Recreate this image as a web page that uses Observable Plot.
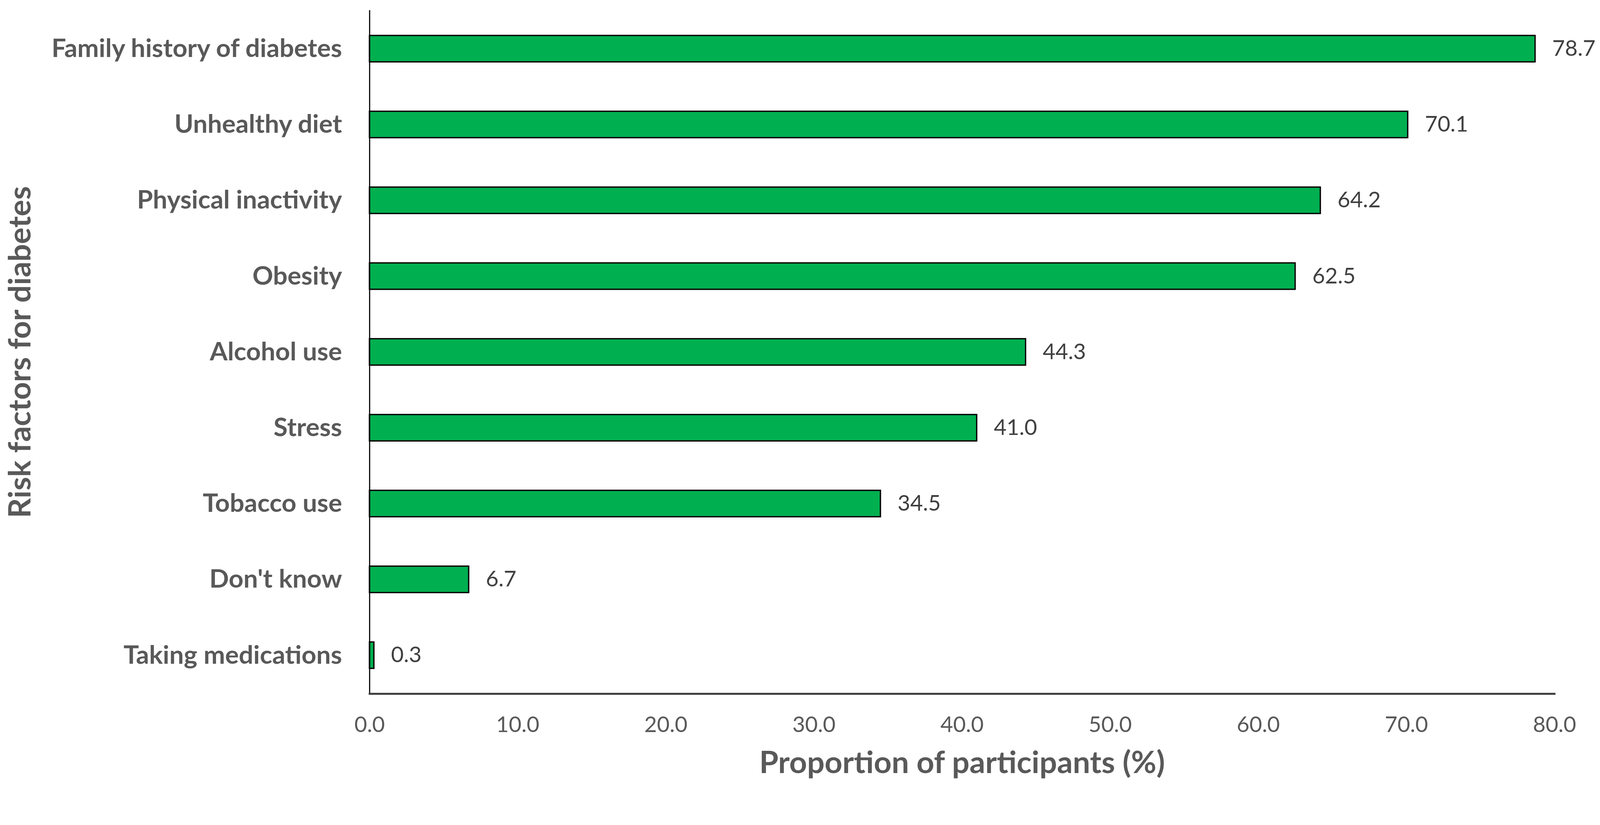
<!DOCTYPE html>
<html>
<head>
<meta charset="utf-8">
<script src="https://cdn.jsdelivr.net/npm/d3@7"></script>
<script src="https://cdn.jsdelivr.net/npm/@observablehq/plot@0.6"></script>
<style>
  html, body { margin: 0; padding: 0; background: #fff; }
  #chart svg { display: block; }
</style>
</head>
<body>
<div id="chart"></div>
<script>
const categories = [
  "Family history of diabetes",
  "Unhealthy diet",
  "Physical inactivity",
  "Obesity",
  "Alcohol use",
  "Stress",
  "Tobacco use",
  "Don't know",
  "Taking medications"
];
const values = [78.7, 70.1, 64.2, 62.5, 44.3, 41.0, 34.5, 6.7, 0.3];
const xTicks = [0, 10, 20, 30, 40, 50, 60, 70, 80];
const xTitle = "Proportion of participants (%)";
const yTitle = "Risk factors for diabetes";

const data = categories.map((c, i) => ({category: c, value: values[i]}));
const fmt = d3.format(".1f");
const font = "Lato, 'Open Sans', sans-serif";

const chart = Plot.plot({
  width: 4240,
  height: 2113,
  marginLeft: 979,
  marginRight: 121,
  marginTop: 27,
  marginBottom: 274,
  style: {fontFamily: font, background: "#fff"},
  x: {domain: [0, 80]},
  y: {domain: categories, paddingInner: 0.65, paddingOuter: 0.325},
  marks: [
    Plot.barX(data, {x: "value", y: "category", fill: "#00B050", stroke: "#000", strokeWidth: 3.5}),
    Plot.ruleX([0], {stroke: "#000", strokeWidth: 3}),
    Plot.frame({anchor: "bottom", stroke: "#3a3a3a", strokeWidth: 5}),
    Plot.text(data, {x: "value", y: "category", text: d => fmt(d.value), dx: 45, textAnchor: "start",
      fill: "#404040", fontSize: 58, fontFamily: font}),
    Plot.axisX({ticks: xTicks, tickFormat: fmt, tickSize: 0, tickPadding: 60, label: null,
      fill: "#595959", fontSize: 58, fontFamily: font}),
    Plot.axisY({tickSize: 0, tickPadding: 73, label: null,
      fill: "#595959", fontSize: 68, fontWeight: "bold", fontFamily: font}),
    Plot.text([xTitle], {text: d => d, frameAnchor: "bottom", dy: 184, lineAnchor: "middle",
      fill: "#595959", fontSize: 82, fontWeight: "bold", fontFamily: font}),
    Plot.text([yTitle], {text: d => d, frameAnchor: "left", dx: -925, rotate: -90,
      textAnchor: "middle", lineAnchor: "middle",
      fill: "#595959", fontSize: 82, fontWeight: "bold", fontFamily: font})
  ]
});
document.getElementById("chart").appendChild(chart);
</script>
</body>
</html>
